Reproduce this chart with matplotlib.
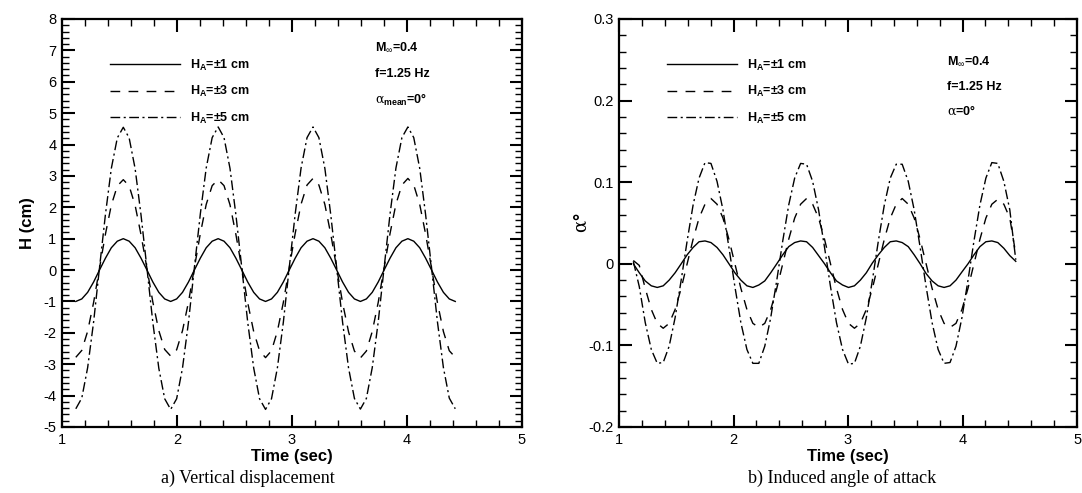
import numpy as np
import matplotlib
matplotlib.use('Agg')
import matplotlib.pyplot as plt
from matplotlib.ticker import MultipleLocator, FuncFormatter

plt.rcParams['font.family'] = ['Liberation Sans', 'DejaVu Sans']
plt.rcParams['axes.unicode_minus'] = False
plt.rcParams['mathtext.fontset'] = 'custom'
plt.rcParams['mathtext.rm'] = 'Liberation Sans'
plt.rcParams['mathtext.bf'] = 'Liberation Sans:bold'
plt.rcParams['mathtext.it'] = 'DejaVu Serif'

# a) vertical displacement
time_a = [1.120, 1.172, 1.223, 1.275, 1.326, 1.378, 1.429, 1.481, 1.533, 1.584, 1.636, 1.687, 1.739, 1.790, 1.842, 1.893,
          1.945, 1.997, 2.048, 2.100, 2.151, 2.203, 2.254, 2.306, 2.358, 2.409, 2.461, 2.512, 2.564, 2.615, 2.667, 2.718,
          2.770, 2.822, 2.873, 2.925, 2.976, 3.028, 3.079, 3.131, 3.183, 3.234, 3.286, 3.337, 3.389, 3.440, 3.492, 3.543,
          3.595, 3.647, 3.698, 3.750, 3.801, 3.853, 3.904, 3.956, 4.008, 4.059, 4.111, 4.162, 4.214, 4.265, 4.317, 4.368,
          4.420]
h_1cm = [-1.00, -0.92, -0.71, -0.38, 0.00, 0.38, 0.71, 0.92, 1.00, 0.92, 0.71, 0.38, 0.00, -0.38, -0.71, -0.92,
         -1.00, -0.92, -0.71, -0.38, 0.00, 0.38, 0.71, 0.92, 1.00, 0.92, 0.71, 0.38, 0.00, -0.38, -0.71, -0.92,
         -1.00, -0.92, -0.71, -0.38, 0.00, 0.38, 0.71, 0.92, 1.00, 0.92, 0.71, 0.38, 0.00, -0.38, -0.71, -0.92,
         -1.00, -0.92, -0.71, -0.38, 0.00, 0.38, 0.71, 0.92, 1.00, 0.92, 0.71, 0.38, 0.00, -0.38, -0.71, -0.92,
         -1.00]
h_3cm = [-2.78, -2.56, -1.95, -1.03, 0.06, 1.15, 2.07, 2.68, 2.88, 2.68, 2.06, 1.13, 0.05, -1.02, -1.93, -2.53,
         -2.74, -2.54, -1.93, -1.02, 0.07, 1.16, 2.09, 2.69, 2.88, 2.69, 2.08, 1.14, 0.05, -1.04, -1.96, -2.57,
         -2.79, -2.57, -1.95, -1.03, 0.07, 1.17, 2.10, 2.71, 2.92, 2.71, 2.09, 1.15, 0.06, -1.04, -1.97, -2.58,
         -2.80, -2.58, -1.96, -1.03, 0.07, 1.17, 2.10, 2.71, 2.92, 2.71, 2.09, 1.15, 0.06, -1.04, -1.96, -2.57,
         -2.78]
h_5cm = [-4.42, -4.08, -3.11, -1.65, 0.07, 1.78, 3.24, 4.21, 4.55, 4.21, 3.23, 1.76, 0.05, -1.67, -3.13, -4.10,
         -4.44, -4.10, -3.12, -1.66, 0.07, 1.79, 3.25, 4.22, 4.56, 4.22, 3.24, 1.77, 0.06, -1.66, -3.12, -4.10,
         -4.44, -4.10, -3.12, -1.66, 0.07, 1.79, 3.25, 4.22, 4.56, 4.22, 3.24, 1.77, 0.06, -1.66, -3.12, -4.09,
         -4.43, -4.09, -3.11, -1.65, 0.07, 1.79, 3.25, 4.22, 4.56, 4.22, 3.24, 1.77, 0.06, -1.65, -3.11, -4.08,
         -4.42]

# b) induced angle of attack
time_b = [1.125, 1.177, 1.229, 1.282, 1.334, 1.386, 1.438, 1.490, 1.543, 1.595, 1.647, 1.699, 1.751, 1.803, 1.856, 1.908,
          1.960, 2.012, 2.064, 2.117, 2.169, 2.221, 2.273, 2.325, 2.378, 2.430, 2.482, 2.534, 2.586, 2.638, 2.691, 2.743,
          2.795, 2.847, 2.899, 2.952, 3.004, 3.056, 3.108, 3.160, 3.213, 3.265, 3.317, 3.369, 3.421, 3.473, 3.526, 3.578,
          3.630, 3.682, 3.734, 3.787, 3.839, 3.891, 3.943, 3.995, 4.048, 4.100, 4.152, 4.204, 4.256, 4.308, 4.361, 4.413,
          4.465]
a_1cm = [0.000, -0.011, -0.021, -0.027, -0.029, -0.027, -0.020, -0.011, 0.000, 0.011, 0.020, 0.027, 0.028, 0.026, 0.020, 0.011,
         0.000, -0.011, -0.020, -0.027, -0.029, -0.026, -0.021, -0.011, 0.000, 0.011, 0.021, 0.026, 0.028, 0.027, 0.020, 0.010,
         0.000, -0.011, -0.021, -0.026, -0.029, -0.027, -0.020, -0.011, 0.001, 0.011, 0.020, 0.027, 0.028, 0.026, 0.021, 0.011,
         0.000, -0.012, -0.021, -0.027, -0.029, -0.027, -0.020, -0.010, 0.000, 0.011, 0.021, 0.027, 0.028, 0.026, 0.019, 0.010,
         0.003]
a_3cm = [0.004, -0.002, -0.030, -0.056, -0.073, -0.079, -0.073, -0.056, -0.030, 0.000, 0.030, 0.056, 0.073, 0.080, 0.073, 0.056,
         0.030, 0.000, -0.030, -0.056, -0.073, -0.078, -0.073, -0.056, -0.030, 0.000, 0.030, 0.056, 0.073, 0.080, 0.073, 0.056,
         0.030, 0.000, -0.030, -0.056, -0.073, -0.079, -0.073, -0.056, -0.030, 0.000, 0.030, 0.056, 0.073, 0.080, 0.073, 0.056,
         0.030, 0.000, -0.030, -0.056, -0.073, -0.078, -0.073, -0.056, -0.030, 0.000, 0.030, 0.056, 0.073, 0.079, 0.073, 0.056,
         0.012]
a_5cm = [0.003, -0.028, -0.072, -0.105, -0.122, -0.121, -0.101, -0.066, -0.020, 0.028, 0.072, 0.105, 0.124, 0.123, 0.101, 0.066,
         0.020, -0.028, -0.072, -0.105, -0.122, -0.122, -0.101, -0.066, -0.020, 0.028, 0.072, 0.105, 0.123, 0.122, 0.101, 0.066,
         0.020, -0.028, -0.072, -0.105, -0.123, -0.122, -0.101, -0.066, -0.020, 0.028, 0.072, 0.105, 0.122, 0.122, 0.101, 0.066,
         0.020, -0.028, -0.072, -0.105, -0.122, -0.121, -0.101, -0.066, -0.020, 0.028, 0.072, 0.105, 0.124, 0.123, 0.101, 0.066,
         0.005]

labels = [r'H$_{\mathbf{A}}$=±1 cm', r'H$_{\mathbf{A}}$=±3 cm', r'H$_{\mathbf{A}}$=±5 cm']


def style_axes(ax, ylo, yhi, ymajor, yminor):
    ax.set_xlim(1, 5)
    ax.set_ylim(ylo, yhi)
    ax.xaxis.set_major_locator(MultipleLocator(1))
    ax.xaxis.set_minor_locator(MultipleLocator(0.2))
    ax.yaxis.set_major_locator(MultipleLocator(ymajor))
    ax.yaxis.set_minor_locator(MultipleLocator(yminor))
    ax.xaxis.set_major_formatter(FuncFormatter(lambda v, p: '%g' % round(v, 3)))
    ax.yaxis.set_major_formatter(FuncFormatter(lambda v, p: '%g' % round(v, 3)))
    ax.tick_params(which='both', direction='in', top=True, right=True, labelsize=10.5, pad=4)
    ax.tick_params(which='major', length=9, width=1.5)
    ax.tick_params(which='minor', length=5, width=1)
    for sp in ax.spines.values():
        sp.set_linewidth(1.6)
    ax.set_xlabel('Time (sec)', fontsize=12, fontweight='bold', labelpad=2)


def draw_curves(ax, t, y1, y3, y5):
    ax.plot(t, y1, color='black', lw=1.0, label=labels[0])
    ax.plot(t, y3, color='black', lw=1.0, dashes=(7, 6), label=labels[1])
    ax.plot(t, y5, color='black', lw=1.0, dashes=(7, 2.5, 1.5, 2.5), label=labels[2])
    ax.legend(loc='upper left', bbox_to_anchor=(0.104, 0.905), frameon=False, borderpad=0,
              borderaxespad=0, handlelength=5.6, handletextpad=0.8, labelspacing=0.9,
              prop={'weight': 'bold', 'size': 9})


def main():
    fig = plt.figure(figsize=(10.82, 4.93), dpi=100)
    ax1 = fig.add_axes([0.0573, 0.1339, 0.4251, 0.8276])
    ax2 = fig.add_axes([0.5721, 0.1339, 0.4233, 0.8276])

    draw_curves(ax1, time_a, h_1cm, h_3cm, h_5cm)
    style_axes(ax1, -5, 8, 1, 0.2)
    ax1.set_ylabel('H (cm)', fontsize=12, fontweight='bold', labelpad=6)
    ax1.text(0.680, 0.929, r'M$_{\infty}$=0.4', transform=ax1.transAxes, fontsize=9, fontweight='bold', va='center')
    ax1.text(0.680, 0.865, 'f=1.25 Hz', transform=ax1.transAxes, fontsize=9, fontweight='bold', va='center')
    ax1.text(0.680, 0.801, r'$\alpha_{\mathbf{mean}}$=0°', transform=ax1.transAxes, fontsize=9, fontweight='bold', va='center')

    draw_curves(ax2, time_b, a_1cm, a_3cm, a_5cm)
    style_axes(ax2, -0.2, 0.3, 0.1, 0.02)
    ax2.set_ylabel(r'$\alpha$°', fontsize=13, fontweight='bold', labelpad=-2)
    ax2.text(0.716, 0.897, r'M$_{\infty}$=0.4', transform=ax2.transAxes, fontsize=9, fontweight='bold', va='center')
    ax2.text(0.716, 0.833, 'f=1.25 Hz', transform=ax2.transAxes, fontsize=9, fontweight='bold', va='center')
    ax2.text(0.716, 0.775, r'$\alpha$=0°', transform=ax2.transAxes, fontsize=9, fontweight='bold', va='center')

    fig.text(0.229, 0.03, 'a) Vertical displacement', fontsize=13, family='Liberation Serif', ha='center', va='center')
    fig.text(0.778, 0.03, 'b) Induced angle of attack', fontsize=13, family='Liberation Serif', ha='center', va='center')

    fig.savefig('out.png', dpi=100, facecolor='white')


if __name__ == '__main__':
    main()
